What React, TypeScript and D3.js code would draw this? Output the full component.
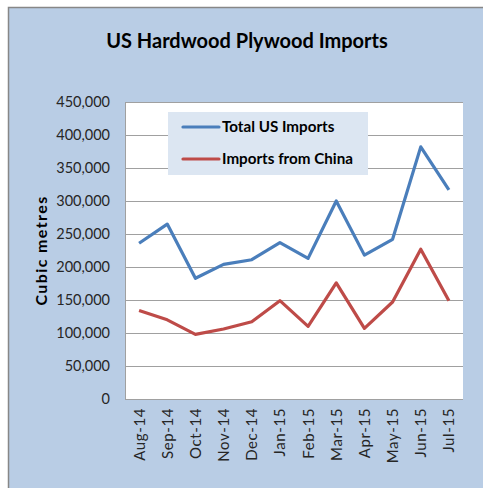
import React from "react";
import * as d3 from "d3";

const categories = ["Aug-14","Sep-14","Oct-14","Nov-14","Dec-14","Jan-15","Feb-15","Mar-15","Apr-15","May-15","Jun-15","Jul-15"];
const totalUS = [236000,265000,183000,204000,211000,237000,213000,300000,218000,242000,382000,317000];
const china = [134000,120000,98000,106000,117000,149000,110000,176000,107000,147000,227000,149000];
const yTicks = [0,50000,100000,150000,200000,250000,300000,350000,400000,450000];
const seriesNames = ["Total US Imports","Imports from China"];
const seriesColors = ["#4A7EBB","#BE4B48"];

const W = 483, H = 488;
const plot = { left: 125, top: 102, right: 463, bottom: 399 };
const FONT = "Lato, 'Open Sans', sans-serif";

export default function App() {
  const x = d3.scaleBand<string>().domain(categories).range([plot.left, plot.right]);
  const y = d3.scaleLinear().domain([0, 450000]).range([plot.bottom, plot.top]);
  const line = d3.line<number>()
    .x((_, i) => (x(categories[i]) as number) + x.bandwidth() / 2)
    .y(d => y(d));
  const fmt = d3.format(",");
  const series = [totalUS, china];
  return (
    <svg width={W} height={H} style={{ position: "absolute", left: 0, top: 0 }}>
      <rect x={0} y={0} width={W} height={H} fill="#ffffff" />
      <rect x={8.5} y={7.5} width={W} height={H} fill="#B9CDE5" stroke="#878787" strokeWidth={1.5} />
      <text x={247} y={48} textAnchor="middle" fontFamily={FONT} fontWeight="bold" fontSize={20} fill="#000">US Hardwood Plywood Imports</text>
      <rect x={plot.left} y={plot.top} width={plot.right - plot.left} height={plot.bottom - plot.top} fill="#ffffff" />
      {yTicks.map(t => (
        <line key={"g" + t} x1={plot.left} x2={plot.right} y1={Math.round(y(t)) + 0.5} y2={Math.round(y(t)) + 0.5} stroke="#A0A0A0" strokeWidth={1} />
      ))}
      <line x1={plot.left + 0.5} x2={plot.left + 0.5} y1={plot.top} y2={plot.bottom} stroke="#A0A0A0" />
      {yTicks.map(t => (
        <text key={"t" + t} x={110} y={y(t) + 5} textAnchor="end" fontFamily={FONT} fontSize={14.5} fill="#262626">{fmt(t)}</text>
      ))}
      <text transform={`translate(47,${(plot.top + plot.bottom) / 2}) rotate(-90)`} textAnchor="middle" fontFamily={FONT} fontWeight="bold" fontSize={16} letterSpacing={1.4} fill="#000">Cubic metres</text>
      {categories.map(c => (
        <text key={c} transform={`translate(${(x(c) as number) + x.bandwidth() / 2 + 5.5},${408}) rotate(-90)`} textAnchor="end" fontFamily={FONT} fontSize={15} letterSpacing={0.6} fill="#262626">{c}</text>
      ))}
      {series.map((s, i) => (
        <path key={i} d={line(s) as string} fill="none" stroke={seriesColors[i]} strokeWidth={3.2} strokeLinejoin="round" />
      ))}
      <rect x={168} y={112} width={200} height={63} fill="#DCE6F2" />
      {seriesNames.map((n, i) => (
        <g key={n}>
          <line x1={183} x2={219} y1={127 + i * 32} y2={127 + i * 32} stroke={seriesColors[i]} strokeWidth={3.2} strokeLinecap="round" />
          <text x={222} y={132 + i * 32} fontFamily={FONT} fontSize={15.2} fontWeight="bold" fill="#000">{n}</text>
        </g>
      ))}
    </svg>
  );
}
